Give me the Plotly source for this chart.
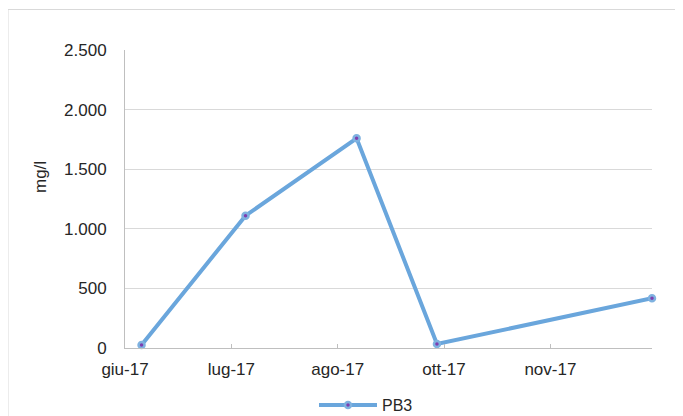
import plotly.graph_objects as go

dates = ["2017-06-08", "2017-07-22", "2017-09-07", "2017-10-11", "2018-01-10"]
values = [25, 1110, 1759, 34, 417]
series_name = "PB3"
tick_dates = ["2017-06-01", "2017-07-16", "2017-08-30", "2017-10-14", "2017-11-28"]
tick_labels = ["giu-17", "lug-17", "ago-17", "ott-17", "nov-17"]
y_title = "mg/l"

# page has an 8px body margin; figure coordinates = page - 8
OFF = 8
W, H = 683 - OFF, 416 - OFF
L, R, T, B = 125 - OFF, 31, 50 - OFF, 68
pw, ph = W - L - R, H - T - B

def px(x):  # page x -> paper
    return (x - OFF - L) / pw

def py(y):  # page y -> paper
    return (H - B - (y - OFF)) / ph

line_color = "#6aa6dc"
font_color = "#262626"
FS = 17

fig = go.Figure()
fig.add_trace(go.Scatter(
    x=dates, y=values, name=series_name, mode="lines+markers",
    line=dict(color=line_color, width=4),
    marker=dict(size=6, color="#7d3fb0", line=dict(color="#7fb2e0", width=2.5)),
    cliponaxis=False,
))

fig.update_layout(
    width=W, height=H,
    margin=dict(l=L, r=R, t=T, b=B, autoexpand=False),
    paper_bgcolor="white", plot_bgcolor="white",
    separators=",.",
    font=dict(family="Liberation Sans, Arial, sans-serif", size=FS, color=font_color),
    showlegend=True,
    legend=dict(orientation="h", x=px(314), xanchor="left", y=py(405), yanchor="middle",
                itemwidth=58, font=dict(size=FS - 1), bgcolor="rgba(0,0,0,0)"),
    xaxis=dict(
        type="date", range=["2017-06-01", "2018-01-10"],
        tickvals=tick_dates, ticktext=tick_labels,
        showgrid=False, showline=True, linecolor="#bfbfbf", linewidth=1,
        ticks="inside", ticklen=4, tickcolor="#bfbfbf", ticklabelstandoff=6,
        zeroline=False,
    ),
    yaxis=dict(
        range=[0, 2500], dtick=500, tickformat=",d",
        showgrid=True, gridcolor="#d9d9d9", gridwidth=1,
        showline=True, linecolor="#bfbfbf", linewidth=1,
        ticks="", ticklabelstandoff=14, zeroline=False,
    ),
    annotations=[dict(
        text=y_title, textangle=-90, xref="paper", yref="paper",
        x=px(40), y=py(177), xanchor="center", yanchor="middle",
        showarrow=False, font=dict(size=FS, color=font_color),
    )],
    shapes=[
        dict(type="line", xref="paper", yref="paper", x0=px(8), x1=px(700), y0=py(9.5), y1=py(9.5),
             line=dict(color="#d9d9d9", width=1)),
        dict(type="line", xref="paper", yref="paper", x0=px(8), x1=px(8), y0=py(9.5), y1=py(430),
             line=dict(color="#d9d9d9", width=1)),
    ],
)

fig.write_html("out.html")
